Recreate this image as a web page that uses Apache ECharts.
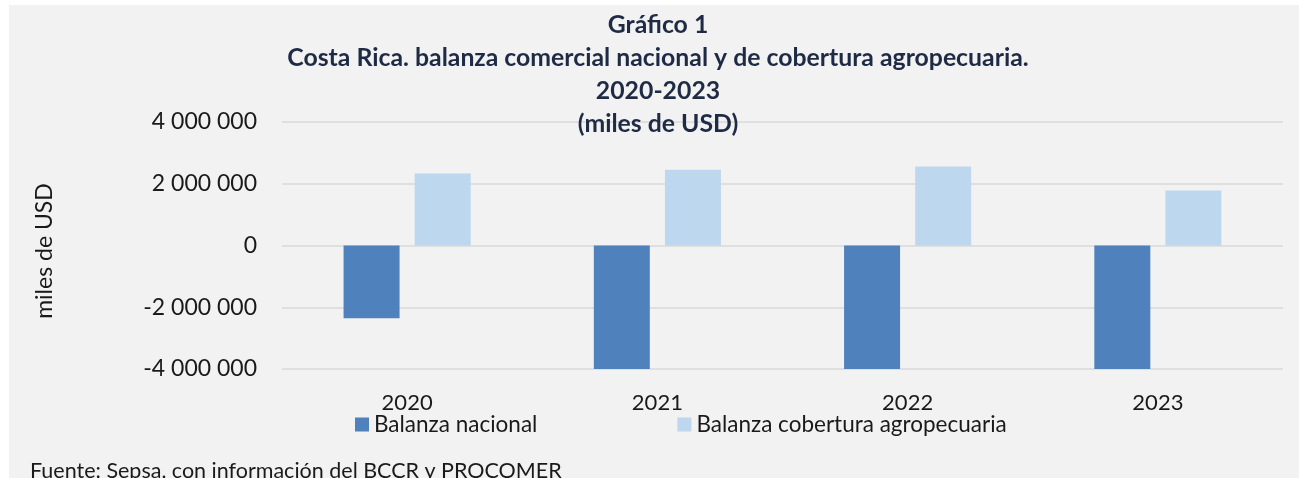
<!DOCTYPE html>
<html>
<head>
<meta charset="utf-8">
<script src="https://cdn.jsdelivr.net/npm/echarts@6/dist/echarts.min.js"></script>
<style>
    html, body { margin: 0; padding: 0; background: #ffffff; }
    #main { width: 1299px; height: 478px; }
</style>
</head>
<body>
<div id="main"></div>
<script>
    // datos
    var anios = ['2020', '2021', '2022', '2023'];
    var balanzaNacional = [-2355000, -4040000, -4040000, -4040000];
    var balanzaAgro = [2332000, 2452000, 2559000, 1780000];
    var ticksY = [-4000000, -2000000, 0, 2000000, 4000000];

    var titulos = [
        'Gráfico 1',
        'Costa Rica. balanza comercial nacional y de cobertura agropecuaria.',
        '2020-2023',
        '(miles de USD)'
    ];

    var fuente = 'Lato, "Noto Sans", sans-serif';

    function miles(v) {
        var s = String(Math.abs(v)).replace(/\B(?=(\d{3})+(?!\d))/g, ' ');
        return (v < 0 ? '-' : '') + s;
    }

    var myChart = echarts.init(document.getElementById('main'));

    var graficos = [{
        type: 'rect',
        shape: {x: 9, y: 5, width: 1290, height: 473},
        style: {fill: '#f2f2f2'},
        z: -10,
        silent: true
    }];
    titulos.forEach(function (t, i) {
        graficos.push({
            type: 'text',
            x: 658,
            y: 25 + i * 33,
            z: 10,
            style: {
                text: t,
                fill: '#1f2b45',
                font: 'bold 24.8px ' + fuente,
                align: 'center',
                verticalAlign: 'middle'
            }
        });
    });
    graficos.push({
        type: 'text',
        x: 45,
        y: 251,
        rotation: Math.PI / 2,
        style: {
            text: 'miles de USD',
            fill: '#1a1a1a',
            font: '23px ' + fuente,
            align: 'center',
            verticalAlign: 'middle'
        }
    });
    graficos.push({
        type: 'text',
        x: 30,
        y: 471,
        style: {
            text: 'Fuente: Sepsa, con información del BCCR y PROCOMER',
            fill: '#1a1a1a',
            font: '21.5px ' + fuente,
            align: 'left',
            verticalAlign: 'middle'
        }
    });

    var option = {
        animation: false,
        backgroundColor: '#ffffff',
        textStyle: {fontFamily: fuente},
        graphic: graficos,
        legend: {
            left: 355,
            top: 413,
            padding: 0,
            itemWidth: 14,
            itemHeight: 14,
            itemGap: 140,
            icon: 'rect',
            textStyle: {fontSize: 22.5, color: '#1a1a1a', fontFamily: fuente},
            data: ['Balanza nacional', 'Balanza cobertura agropecuaria']
        },
        grid: {left: 282, right: 16, top: 122, bottom: 109, containLabel: false},
        xAxis: {
            type: 'category',
            data: anios,
            axisLine: {show: false, onZero: false},
            axisTick: {show: false},
            axisLabel: {fontSize: 22, color: '#1a1a1a', margin: 23, fontFamily: fuente}
        },
        yAxis: {
            type: 'value',
            min: ticksY[0],
            max: ticksY[ticksY.length - 1],
            interval: 2000000,
            axisLine: {show: false},
            axisTick: {show: false},
            splitLine: {lineStyle: {color: '#d9d9d9', width: 1.5}},
            axisLabel: {
                fontSize: 23,
                color: '#1a1a1a',
                margin: 25,
                fontFamily: fuente,
                formatter: miles
            }
        },
        series: [
            {
                name: 'Balanza nacional',
                type: 'bar',
                data: balanzaNacional,
                barWidth: 56,
                barGap: '27%',
                itemStyle: {color: '#4f81bd'}
            },
            {
                name: 'Balanza cobertura agropecuaria',
                type: 'bar',
                data: balanzaAgro,
                barWidth: 56,
                itemStyle: {color: '#bdd7ee'}
            }
        ]
    };
    myChart.setOption(option);
</script>
</body>
</html>
